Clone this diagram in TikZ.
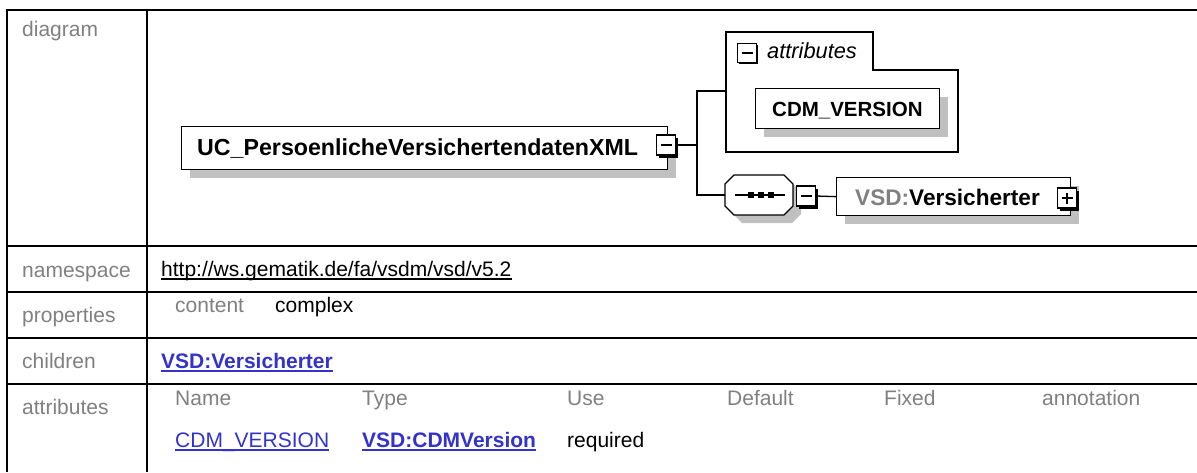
\documentclass[tikz,border=0pt]{standalone}
\usepackage{fontspec}
\setmainfont{Liberation Sans}
\usetikzlibrary{shadows}
\definecolor{lblgray}{RGB}{128,128,128}
\definecolor{linkblue}{RGB}{51,51,204}
\definecolor{shgray}{RGB}{192,192,192}
\begin{document}
\begin{tikzpicture}[x=1pt,y=-1pt,
  gridline/.style={line width=2pt},
  lbl/.style={anchor=base west, inner sep=0pt, text=lblgray, font=\fontsize{21}{25}\selectfont},
  val/.style={anchor=base west, inner sep=0pt, text=black, font=\fontsize{21}{25}\selectfont},
  lnk/.style={anchor=base west, inner sep=0pt, text=linkblue, font=\fontsize{21}{25}\selectfont},
  blnk/.style={anchor=base west, inner sep=0pt, text=linkblue, font=\fontsize{21}{25}\selectfont\bfseries},
  uline/.style={line width=1.4pt},
  elbox/.style={draw, line width=1.3pt, fill=white, general shadow={fill=shgray, shadow xshift=8pt, shadow yshift=-8pt}},
  togglebox/.style={draw, line width=1.3pt, fill=white, minimum width=19pt, minimum height=20pt, inner sep=0pt,
     general shadow={fill=black, shadow xshift=2.5pt, shadow yshift=-2.5pt}},
  conn/.style={line width=1.3pt},
  dtext/.style={anchor=base west, inner sep=0pt, font=\fontsize{22}{26}\selectfont\bfseries},
]
\useasboundingbox (0,0) rectangle (1197,472);
\fill[white] (0,0) rectangle (1197,472);

% ---------- table grid ----------
\draw[gridline] (7,472) -- (7,10) -- (1197,10);
\draw[gridline] (147,10) -- (147,472);
\draw[gridline] (7,246) -- (1197,246);
\draw[gridline] (7,292) -- (1197,292);
\draw[gridline] (7,338) -- (1197,338);
\draw[gridline] (7,384) -- (1197,384);

% ---------- labels ----------
\node[lbl] (l1) at (22,36) {diagram};
\node[lbl] (l2) at (22,277) {namespace};
\node[lbl] (l3) at (22,322) {properties};
\node[lbl] (l4) at (22,368) {children};
\node[lbl] (l5) at (22,414) {attributes};

% ---------- namespace ----------
\node[val] (ns) at (161,276) {http://ws.gematik.de/fa/vsdm/vsd/v5.2};
\draw[uline] ([yshift=-3pt]ns.base west) -- ([yshift=-3pt]ns.base east);

% ---------- properties ----------
\node[lbl] (pc) at (175,312) {content};
\node[val] (pv) at (275,312) {complex};

% ---------- children ----------
\node[blnk] (ch) at (161,368) {VSD:Versicherter};
\draw[uline, linkblue] ([yshift=-3pt]ch.base west) -- ([yshift=-3pt]ch.base east);

% ---------- attributes ----------
\node[lbl] (hName) at (175,405) {Name};
\node[lbl] (hType) at (362,405) {Type};
\node[lbl] (hUse) at (567,405) {Use};
\node[lbl] (hDef) at (727,405) {Default};
\node[lbl] (hFix) at (884,405) {Fixed};
\node[lbl] (hAnn) at (1042,405) {annotation};
\node[lnk] (aName) at (175,447) {CDM\_VERSION};
\draw[uline, linkblue] ([yshift=-3pt]aName.base west) -- ([yshift=-3pt]aName.base east);
\node[blnk] (aType) at (362,447) {VSD:CDMVersion};
\draw[uline, linkblue] ([yshift=-3pt]aType.base west) -- ([yshift=-3pt]aType.base east);
\node[val] (aUse) at (567,447) {required};

% ---------- diagram ----------
% root element
\node[elbox, anchor=north west, minimum width=486pt, minimum height=43pt, inner sep=0pt] (uc) at (181,126) {};
\node[dtext, font=\fontsize{23.2}{26}\selectfont\bfseries] (uctext) at (197,155) {UC\_PersoenlicheVersichertendatenXML};
\node[togglebox] (ucminus) at (666,145) {};
\draw[line width=1.3pt] ([xshift=-5.5pt]ucminus.center) -- ([xshift=5.5pt]ucminus.center);

% junction
\coordinate (jA) at (697,91);
\coordinate (jS) at (697,195);
\coordinate (grp) at (726,91);

% attributes group
\draw[line width=1.3pt, fill=white] (726,152) -- (726,32) -- (873,32) -- (873,70) -- (958,70) -- (958,152) -- cycle;
\node[draw, line width=1.3pt, fill=white, minimum width=19pt, minimum height=19pt, inner sep=0pt,
   general shadow={fill=black, shadow xshift=1.3pt, shadow yshift=-1.3pt}] (grpminus) at (747,53) {};
\draw[line width=1.3pt] ([xshift=-5.5pt]grpminus.center) -- ([xshift=5.5pt]grpminus.center);
\node[anchor=base west, inner sep=0pt, font=\fontsize{21.8}{26}\selectfont\itshape] (grptext) at (767,58) {attributes};

\node[elbox, anchor=north west, minimum width=184pt, minimum height=40pt, inner sep=0pt] (cdm) at (755,88) {};
\node[dtext, font=\fontsize{20.5}{24}\selectfont\bfseries] (cdmtext) at (772,116) {CDM\_VERSION};

% sequence compositor (octagon)
\fill[shgray] (742,183) -- (792,183) -- (801,192) -- (801,214) -- (792,223) -- (742,223) -- (733,214) -- (733,192) -- cycle;
\draw[line width=1.3pt, fill=white] (734,175) -- (784,175) -- (793,184) -- (793,206) -- (784,215) -- (734,215) -- (725,206) -- (725,184) -- cycle;
\coordinate (seq) at (725,195);
\draw[line width=1.3pt] (735,195) -- (785,195);
\foreach \xx in {750.5,760.5,770.5} \fill (\xx-3,192) rectangle (\xx+3,198);
\node[togglebox] (seqminus) at (806,196) {};
\draw[line width=1.3pt] ([xshift=-5.5pt]seqminus.center) -- ([xshift=5.5pt]seqminus.center);

% child element
\node[elbox, anchor=north west, minimum width=234pt, minimum height=38pt, inner sep=0pt] (vers) at (836,177) {};
\node[dtext, font=\fontsize{22.6}{26}\selectfont\bfseries] (verstext) at (855,205) {\textcolor{lblgray}{VSD:}Versicherter};
\node[togglebox] (versplus) at (1067,198) {};
\draw[line width=1.3pt] ([xshift=-5.5pt]versplus.center) -- ([xshift=5.5pt]versplus.center);
\draw[line width=1.3pt] ([yshift=-5.5pt]versplus.center) -- ([yshift=5.5pt]versplus.center);

% connectors
\draw[conn] (ucminus.east) -- (ucminus.east -| jA);
\draw[conn] (grp) -- (jA) -- (jS) -- (seq);
\draw[conn] (seqminus.east) -- (vers.west);
\end{tikzpicture}
\end{document}
